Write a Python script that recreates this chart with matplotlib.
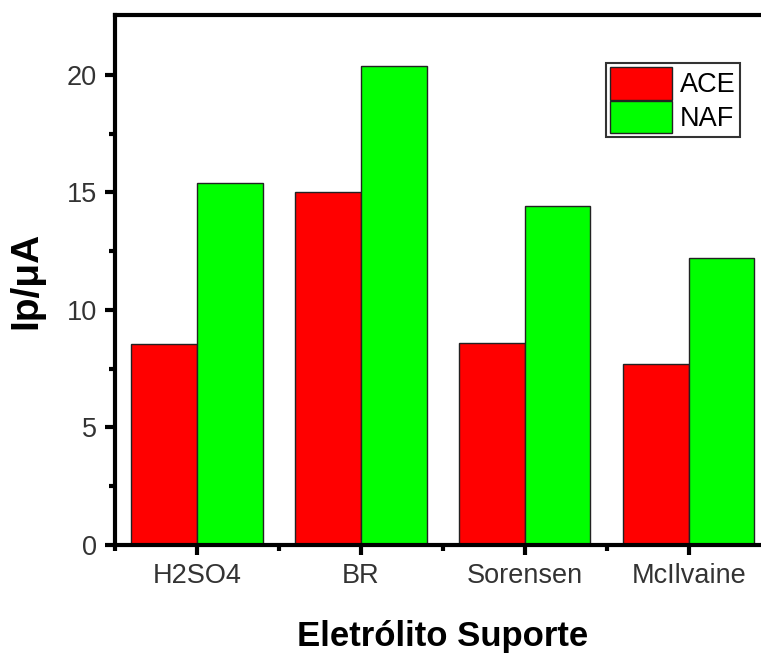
import numpy as np
import matplotlib
matplotlib.use("Agg")
from matplotlib import pyplot as plt

plt.rcParams['font.family'] = ['Liberation Sans', 'DejaVu Sans']

# datos
categorias = ['H2SO4', 'BR', 'Sorensen', 'McIlvaine']
ace = [8.55, 15.0, 8.6, 7.7]
naf = [15.4, 20.38, 14.43, 12.2]

fig = plt.figure(figsize=(7.61, 6.55), dpi=100)
ax = fig.add_axes([0.151, 0.168, 0.862, 0.809])

x = np.arange(1, len(categorias) + 1)
w = 0.4
ax.bar(x - w/2, ace, w, color='#ff0000', edgecolor='#222222', linewidth=1, label='ACE')
ax.bar(x + w/2, naf, w, color='#00ff00', edgecolor='#222222', linewidth=1, label='NAF')

ax.set_xlim(0.5, 4.5)
ax.set_ylim(0, 22.55)
ax.set_xticks(x)
ax.set_xticklabels(categorias)
ax.set_xticks(np.arange(0.5, 4.6, 1.0), minor=True)
ax.set_yticks([0, 5, 10, 15, 20])
ax.set_yticks(np.arange(2.5, 22.5, 5), minor=True)

for s in ax.spines.values():
    s.set_linewidth(3)
ax.tick_params(which='major', direction='out', length=7, width=3, labelsize=19.5,
               labelcolor='#333333', pad=6)
ax.tick_params(which='minor', direction='out', length=4, width=3)

ax.set_xlabel('Eletrólito Suporte', fontsize=25, fontweight='bold', labelpad=22)
ax.set_ylabel('Ip/\u03bcA', fontsize=28, fontweight='bold', labelpad=16)

leg = ax.legend(loc='upper right', bbox_to_anchor=(0.953, 0.909), fontsize=19.5,
                frameon=True, fancybox=False, handlelength=2.3, handleheight=1.45,
                borderpad=0.15, labelspacing=0.05, handletextpad=0.3, borderaxespad=0)
leg.get_frame().set_edgecolor('black')
leg.get_frame().set_linewidth(1.5)

fig.savefig('out.png', dpi=100)
